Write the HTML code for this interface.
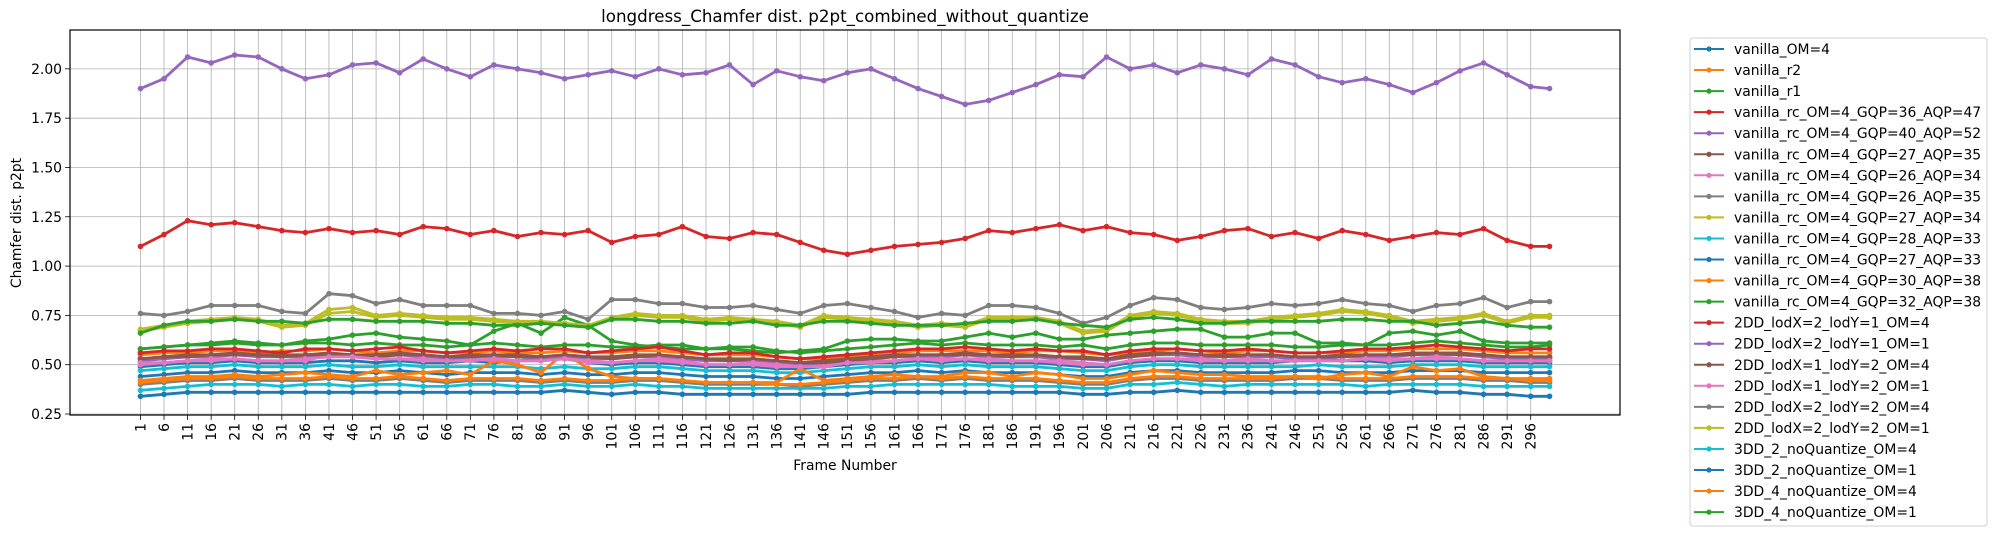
<!DOCTYPE html>
<html><head><meta charset="utf-8"><style>
html,body{margin:0;padding:0;background:#fff;}
svg{display:block;font-family:"DejaVu Sans","Liberation Sans",sans-serif;}
</style></head><body>
<svg id="chart" width="1997" height="536" viewBox="0 0 1997 536">
<text x="845" y="22" text-anchor="middle" font-size="16.7">longdress_Chamfer dist. p2pt_combined_without_quantize</text>
<g id="grid"></g>
<g id="series"></g>
<rect x="70" y="30" width="1550" height="385" fill="none" stroke="#000" stroke-width="1.2"/>
<g id="xticks"></g>
<g id="yticks"></g>
<text x="845" y="470" text-anchor="middle" font-size="13.9">Frame Number</text>
<text x="0" y="0" transform="translate(21,223) rotate(-90)" text-anchor="middle" font-size="13.9">Chamfer dist. p2pt</text>
<g id="legend"></g>
</svg>
<script>
const frames=[1,6,11,16,21,26,31,36,41,46,51,56,61,66,71,76,81,86,91,96,101,106,111,116,121,126,131,136,141,146,151,156,161,166,171,176,181,186,191,196,201,206,211,216,221,226,231,236,241,246,251,256,261,266,271,276,281,286,291,296,300];
const tickLabels=[1,6,11,16,21,26,31,36,41,46,51,56,61,66,71,76,81,86,91,96,101,106,111,116,121,126,131,136,141,146,151,156,161,166,171,176,181,186,191,196,201,206,211,216,221,226,231,236,241,246,251,256,261,266,271,276,281,286,291,296];
const yTicks=[0.25,0.50,0.75,1.00,1.25,1.50,1.75,2.00];
const seriesNames=["vanilla_OM=4","vanilla_r2","vanilla_r1","vanilla_rc_OM=4_GQP=36_AQP=47","vanilla_rc_OM=4_GQP=40_AQP=52","vanilla_rc_OM=4_GQP=27_AQP=35","vanilla_rc_OM=4_GQP=26_AQP=34","vanilla_rc_OM=4_GQP=26_AQP=35","vanilla_rc_OM=4_GQP=27_AQP=34","vanilla_rc_OM=4_GQP=28_AQP=33","vanilla_rc_OM=4_GQP=27_AQP=33","vanilla_rc_OM=4_GQP=30_AQP=38","vanilla_rc_OM=4_GQP=32_AQP=38","2DD_lodX=2_lodY=1_OM=4","2DD_lodX=2_lodY=1_OM=1","2DD_lodX=1_lodY=2_OM=4","2DD_lodX=1_lodY=2_OM=1","2DD_lodX=2_lodY=2_OM=4","2DD_lodX=2_lodY=2_OM=1","3DD_2_noQuantize_OM=4","3DD_2_noQuantize_OM=1","3DD_4_noQuantize_OM=4","3DD_4_noQuantize_OM=1"];
const s0=[0.49,0.50,0.51,0.51,0.52,0.51,0.51,0.51,0.52,0.52,0.51,0.52,0.51,0.51,0.52,0.51,0.52,0.53,0.53,0.51,0.50,0.51,0.51,0.50,0.49,0.49,0.49,0.48,0.48,0.49,0.50,0.51,0.51,0.52,0.51,0.52,0.51,0.51,0.51,0.50,0.49,0.49,0.51,0.52,0.52,0.51,0.51,0.51,0.51,0.52,0.53,0.52,0.52,0.51,0.52,0.52,0.52,0.51,0.51,0.51,0.51];
const s1=[0.55,0.56,0.56,0.57,0.57,0.56,0.57,0.57,0.58,0.57,0.56,0.57,0.57,0.56,0.56,0.57,0.56,0.56,0.57,0.56,0.56,0.57,0.57,0.56,0.55,0.55,0.55,0.54,0.53,0.53,0.54,0.55,0.56,0.57,0.57,0.57,0.57,0.56,0.57,0.57,0.56,0.55,0.56,0.57,0.58,0.57,0.56,0.57,0.57,0.56,0.56,0.56,0.57,0.57,0.58,0.58,0.58,0.57,0.56,0.56,0.56];
const s2=[0.58,0.59,0.60,0.60,0.61,0.60,0.60,0.61,0.61,0.60,0.61,0.60,0.60,0.59,0.60,0.61,0.60,0.59,0.60,0.60,0.59,0.59,0.60,0.60,0.58,0.59,0.59,0.57,0.56,0.57,0.58,0.59,0.60,0.61,0.60,0.61,0.60,0.60,0.60,0.59,0.60,0.58,0.60,0.61,0.61,0.60,0.60,0.60,0.60,0.59,0.59,0.60,0.60,0.60,0.61,0.62,0.61,0.60,0.59,0.59,0.60];
const s3=[1.10,1.16,1.23,1.21,1.22,1.20,1.18,1.17,1.19,1.17,1.18,1.16,1.20,1.19,1.16,1.18,1.15,1.17,1.16,1.18,1.12,1.15,1.16,1.20,1.15,1.14,1.17,1.16,1.12,1.08,1.06,1.08,1.10,1.11,1.12,1.14,1.18,1.17,1.19,1.21,1.18,1.20,1.17,1.16,1.13,1.15,1.18,1.19,1.15,1.17,1.14,1.18,1.16,1.13,1.15,1.17,1.16,1.19,1.13,1.10,1.10];
const s4=[1.90,1.95,2.06,2.03,2.07,2.06,2.00,1.95,1.97,2.02,2.03,1.98,2.05,2.00,1.96,2.02,2.00,1.98,1.95,1.97,1.99,1.96,2.00,1.97,1.98,2.02,1.92,1.99,1.96,1.94,1.98,2.00,1.95,1.90,1.86,1.82,1.84,1.88,1.92,1.97,1.96,2.06,2.00,2.02,1.98,2.02,2.00,1.97,2.05,2.02,1.96,1.93,1.95,1.92,1.88,1.93,1.99,2.03,1.97,1.91,1.90];
const s5=[0.53,0.54,0.55,0.55,0.56,0.55,0.55,0.55,0.56,0.55,0.55,0.56,0.55,0.54,0.55,0.55,0.55,0.54,0.55,0.54,0.54,0.55,0.55,0.54,0.53,0.53,0.53,0.52,0.51,0.52,0.53,0.54,0.55,0.55,0.55,0.56,0.55,0.55,0.55,0.54,0.54,0.53,0.55,0.56,0.56,0.55,0.55,0.55,0.55,0.54,0.54,0.55,0.55,0.55,0.56,0.56,0.56,0.55,0.54,0.54,0.54];
const s6=[0.50,0.51,0.52,0.52,0.53,0.52,0.52,0.52,0.55,0.54,0.53,0.53,0.52,0.52,0.53,0.52,0.52,0.52,0.53,0.51,0.51,0.52,0.52,0.51,0.50,0.50,0.50,0.49,0.49,0.50,0.51,0.52,0.52,0.53,0.52,0.53,0.52,0.52,0.52,0.51,0.50,0.50,0.52,0.53,0.53,0.52,0.52,0.52,0.52,0.52,0.52,0.52,0.53,0.52,0.53,0.53,0.53,0.52,0.52,0.52,0.52];
const s7=[0.40,0.41,0.42,0.42,0.43,0.42,0.42,0.42,0.43,0.42,0.42,0.43,0.42,0.41,0.42,0.42,0.42,0.41,0.42,0.41,0.41,0.42,0.42,0.41,0.40,0.40,0.40,0.40,0.39,0.40,0.41,0.42,0.42,0.43,0.42,0.43,0.42,0.42,0.42,0.41,0.40,0.40,0.42,0.43,0.43,0.42,0.42,0.42,0.42,0.43,0.43,0.42,0.42,0.42,0.43,0.43,0.43,0.42,0.42,0.41,0.41];
const s8=[0.67,0.69,0.71,0.72,0.73,0.72,0.69,0.70,0.76,0.77,0.74,0.75,0.74,0.73,0.73,0.72,0.71,0.71,0.70,0.69,0.73,0.75,0.74,0.74,0.72,0.73,0.72,0.71,0.69,0.74,0.73,0.72,0.71,0.69,0.70,0.69,0.73,0.73,0.73,0.71,0.66,0.67,0.74,0.76,0.75,0.72,0.71,0.71,0.73,0.74,0.75,0.77,0.76,0.74,0.71,0.72,0.73,0.75,0.71,0.74,0.74];
const s9=[0.47,0.48,0.49,0.49,0.50,0.49,0.49,0.49,0.50,0.49,0.49,0.50,0.49,0.49,0.49,0.49,0.49,0.48,0.49,0.48,0.48,0.49,0.49,0.48,0.47,0.47,0.47,0.46,0.46,0.47,0.48,0.49,0.49,0.50,0.49,0.50,0.49,0.49,0.49,0.48,0.47,0.47,0.49,0.50,0.50,0.49,0.49,0.49,0.49,0.49,0.50,0.49,0.49,0.49,0.50,0.50,0.50,0.49,0.49,0.49,0.49];
const s10=[0.44,0.45,0.46,0.46,0.47,0.46,0.46,0.46,0.47,0.46,0.46,0.47,0.46,0.45,0.46,0.46,0.46,0.45,0.46,0.45,0.45,0.46,0.46,0.45,0.44,0.44,0.44,0.43,0.43,0.44,0.45,0.46,0.46,0.47,0.46,0.47,0.46,0.46,0.46,0.45,0.44,0.44,0.46,0.47,0.47,0.46,0.46,0.46,0.46,0.47,0.47,0.46,0.46,0.46,0.47,0.47,0.47,0.46,0.46,0.46,0.46];
const s11=[0.42,0.43,0.44,0.44,0.45,0.44,0.45,0.46,0.45,0.44,0.47,0.45,0.46,0.47,0.45,0.52,0.50,0.46,0.56,0.48,0.44,0.43,0.43,0.42,0.41,0.41,0.41,0.41,0.48,0.42,0.43,0.44,0.45,0.44,0.44,0.46,0.46,0.44,0.46,0.45,0.43,0.43,0.45,0.47,0.46,0.45,0.45,0.44,0.44,0.44,0.43,0.45,0.46,0.44,0.49,0.47,0.48,0.44,0.43,0.42,0.42];
const s12=[0.58,0.59,0.60,0.61,0.62,0.61,0.60,0.62,0.63,0.65,0.66,0.64,0.63,0.62,0.60,0.67,0.71,0.66,0.74,0.70,0.62,0.60,0.59,0.58,0.58,0.58,0.57,0.56,0.57,0.58,0.62,0.63,0.63,0.62,0.62,0.64,0.66,0.64,0.66,0.63,0.63,0.65,0.66,0.67,0.68,0.68,0.64,0.64,0.66,0.66,0.61,0.61,0.60,0.66,0.67,0.65,0.67,0.62,0.61,0.61,0.61];
const s13=[0.56,0.57,0.57,0.58,0.58,0.57,0.56,0.58,0.58,0.57,0.58,0.59,0.57,0.56,0.57,0.58,0.57,0.58,0.58,0.56,0.57,0.58,0.59,0.57,0.55,0.56,0.56,0.54,0.53,0.54,0.55,0.56,0.57,0.58,0.58,0.59,0.58,0.57,0.58,0.57,0.57,0.55,0.57,0.58,0.58,0.57,0.57,0.58,0.57,0.56,0.56,0.57,0.58,0.58,0.59,0.60,0.59,0.58,0.57,0.58,0.58];
const s14=[0.52,0.53,0.54,0.54,0.55,0.54,0.54,0.54,0.55,0.54,0.54,0.55,0.54,0.53,0.54,0.54,0.54,0.53,0.54,0.53,0.53,0.54,0.54,0.53,0.52,0.52,0.52,0.51,0.50,0.51,0.52,0.53,0.54,0.54,0.54,0.55,0.54,0.54,0.54,0.53,0.53,0.52,0.54,0.55,0.55,0.54,0.54,0.54,0.54,0.53,0.53,0.54,0.54,0.54,0.55,0.55,0.55,0.54,0.53,0.53,0.53];
const s15=[0.53,0.54,0.54,0.55,0.55,0.55,0.54,0.55,0.55,0.55,0.54,0.55,0.55,0.54,0.54,0.55,0.54,0.54,0.55,0.54,0.53,0.54,0.55,0.54,0.53,0.52,0.53,0.52,0.51,0.51,0.52,0.53,0.54,0.55,0.55,0.55,0.55,0.54,0.55,0.54,0.53,0.53,0.54,0.55,0.56,0.55,0.54,0.55,0.55,0.54,0.54,0.54,0.55,0.55,0.55,0.56,0.55,0.55,0.54,0.54,0.54];
const s16=[0.51,0.51,0.52,0.53,0.53,0.52,0.52,0.53,0.54,0.54,0.53,0.53,0.53,0.52,0.52,0.53,0.52,0.52,0.53,0.52,0.51,0.52,0.53,0.52,0.50,0.50,0.51,0.50,0.49,0.49,0.51,0.51,0.52,0.53,0.53,0.53,0.53,0.52,0.52,0.52,0.51,0.50,0.52,0.53,0.53,0.53,0.52,0.53,0.52,0.52,0.52,0.52,0.53,0.53,0.53,0.54,0.53,0.52,0.52,0.52,0.52];
const s17=[0.76,0.75,0.77,0.80,0.80,0.80,0.77,0.76,0.86,0.85,0.81,0.83,0.80,0.80,0.80,0.76,0.76,0.75,0.77,0.73,0.83,0.83,0.81,0.81,0.79,0.79,0.80,0.78,0.76,0.80,0.81,0.79,0.77,0.74,0.76,0.75,0.80,0.80,0.79,0.76,0.71,0.74,0.80,0.84,0.83,0.79,0.78,0.79,0.81,0.80,0.81,0.83,0.81,0.80,0.77,0.80,0.81,0.84,0.79,0.82,0.82];
const s18=[0.68,0.70,0.72,0.73,0.74,0.73,0.70,0.71,0.78,0.79,0.75,0.76,0.75,0.74,0.74,0.73,0.72,0.72,0.71,0.70,0.74,0.76,0.75,0.75,0.73,0.74,0.73,0.72,0.70,0.75,0.74,0.73,0.72,0.70,0.71,0.70,0.74,0.74,0.74,0.72,0.67,0.68,0.75,0.77,0.76,0.73,0.72,0.72,0.74,0.75,0.76,0.78,0.77,0.75,0.72,0.73,0.74,0.76,0.72,0.75,0.75];
const s19=[0.37,0.38,0.39,0.40,0.40,0.40,0.39,0.40,0.40,0.39,0.40,0.40,0.39,0.39,0.40,0.40,0.39,0.39,0.40,0.39,0.39,0.40,0.39,0.39,0.38,0.38,0.38,0.38,0.38,0.38,0.39,0.39,0.40,0.40,0.40,0.40,0.40,0.39,0.39,0.39,0.38,0.38,0.40,0.40,0.41,0.40,0.39,0.40,0.40,0.40,0.40,0.40,0.39,0.40,0.40,0.40,0.40,0.39,0.39,0.39,0.39];
const s20=[0.34,0.35,0.36,0.36,0.36,0.36,0.36,0.36,0.36,0.36,0.36,0.36,0.36,0.36,0.36,0.36,0.36,0.36,0.37,0.36,0.35,0.36,0.36,0.35,0.35,0.35,0.35,0.35,0.35,0.35,0.35,0.36,0.36,0.36,0.36,0.36,0.36,0.36,0.36,0.36,0.35,0.35,0.36,0.36,0.37,0.36,0.36,0.36,0.36,0.36,0.36,0.36,0.36,0.36,0.37,0.36,0.36,0.35,0.35,0.34,0.34];
const s21=[0.41,0.42,0.43,0.43,0.44,0.43,0.43,0.43,0.44,0.43,0.43,0.44,0.43,0.42,0.43,0.43,0.43,0.42,0.43,0.42,0.42,0.43,0.43,0.42,0.41,0.41,0.41,0.40,0.40,0.41,0.42,0.43,0.43,0.44,0.43,0.44,0.43,0.43,0.43,0.42,0.41,0.41,0.43,0.44,0.44,0.43,0.43,0.43,0.43,0.44,0.44,0.43,0.43,0.43,0.44,0.44,0.44,0.43,0.43,0.43,0.43];
const s22=[0.66,0.70,0.72,0.72,0.73,0.72,0.72,0.71,0.73,0.73,0.72,0.72,0.72,0.71,0.71,0.70,0.70,0.71,0.70,0.69,0.73,0.73,0.72,0.72,0.71,0.71,0.72,0.70,0.70,0.72,0.72,0.71,0.70,0.70,0.70,0.71,0.72,0.72,0.73,0.71,0.70,0.69,0.73,0.74,0.73,0.71,0.71,0.72,0.72,0.72,0.72,0.73,0.73,0.72,0.72,0.70,0.71,0.72,0.70,0.69,0.69];
const allSeries=[s0,s1,s2,s3,s4,s5,s6,s7,s8,s9,s10,s11,s12,s13,s14,s15,s16,s17,s18,s19,s20,s21,s22];
const palette=["#1f77b4","#ff7f0e","#2ca02c","#d62728","#9467bd","#8c564b","#e377c2","#7f7f7f","#bcbd22","#17becf"];

const NS="http://www.w3.org/2000/svg";
const L=70,R=1620,T=30,B=415;
const xMin=1-14.95,xMax=300+14.95,yMin=0.245,yMax=2.197;
function xs(f){return L+(f-xMin)/(xMax-xMin)*(R-L);}
function ys(v){return B-(v-yMin)/(yMax-yMin)*(B-T);}
function mk(tag,attrs,parent){const e=document.createElementNS(NS,tag);for(const k in attrs)e.setAttribute(k,attrs[k]);parent.appendChild(e);return e;}
const grid=document.getElementById('grid'),xt=document.getElementById('xticks'),yt=document.getElementById('yticks');
tickLabels.forEach(t=>{
  const x=xs(t);
  const g=mk('line',{x1:x,x2:x,y1:T,y2:B,stroke:'#b0b0b0','stroke-width':0.8},grid);
  
  
  const tk=mk('line',{x1:x,x2:x,y1:B,y2:B+4.9,stroke:'#000','stroke-width':0.8},xt);
  
  
  const tx=mk('text',{x:0,y:0,transform:`translate(${x+4.8},${B+8}) rotate(-90)`,'text-anchor':'end','font-size':13.9},xt);
  tx.textContent=t;
  
  
});
yTicks.forEach(t=>{
  const y=ys(t);
  const g=mk('line',{x1:L,x2:R,y1:y,y2:y,stroke:'#b0b0b0','stroke-width':0.8},grid);
  
  
  const tk=mk('line',{x1:L-4.9,x2:L,y1:y,y2:y,stroke:'#000','stroke-width':0.8},yt);
  
  
  const tx=mk('text',{x:L-8,y:y+5,'text-anchor':'end','font-size':13.9},yt);
  tx.textContent=t.toFixed(2);
  
  
});
const sg=document.getElementById('series');
allSeries.forEach((vals,i)=>{
  const c=palette[i%10];
  const g=mk('g',{},sg);
  
  
  const pts=vals.map((v,j)=>xs(frames[j]).toFixed(1)+','+ys(v).toFixed(1)).join(' ');
  const pl=mk('polyline',{points:pts,fill:'none',stroke:c,'stroke-width':2.8,'stroke-linejoin':'round'},g);
  
  
  vals.forEach((v,j)=>{
    const m=mk('circle',{cx:xs(frames[j]),cy:ys(v),r:2.8,fill:c},g);
    
    
  });
});
const lg=document.getElementById('legend');
const lb=mk('rect',{x:1690,y:38,width:297,height:488,rx:3,fill:'#fff',stroke:'#d0d0d0','stroke-width':1},lg);


seriesNames.forEach((n,i)=>{
  const y=49+i*21.05,c=palette[i%10];
  const g=mk('g',{},lg);
  
  
  mk('line',{x1:1694,x2:1724,y1:y,y2:y,stroke:c,'stroke-width':2},g);
  mk('circle',{cx:1709,cy:y,r:2.6,fill:c},g);
  const t=mk('text',{x:1734,y:y+5,'font-size':13.9},g);
  t.textContent=n;
  
  
});
</script>
</body></html>
